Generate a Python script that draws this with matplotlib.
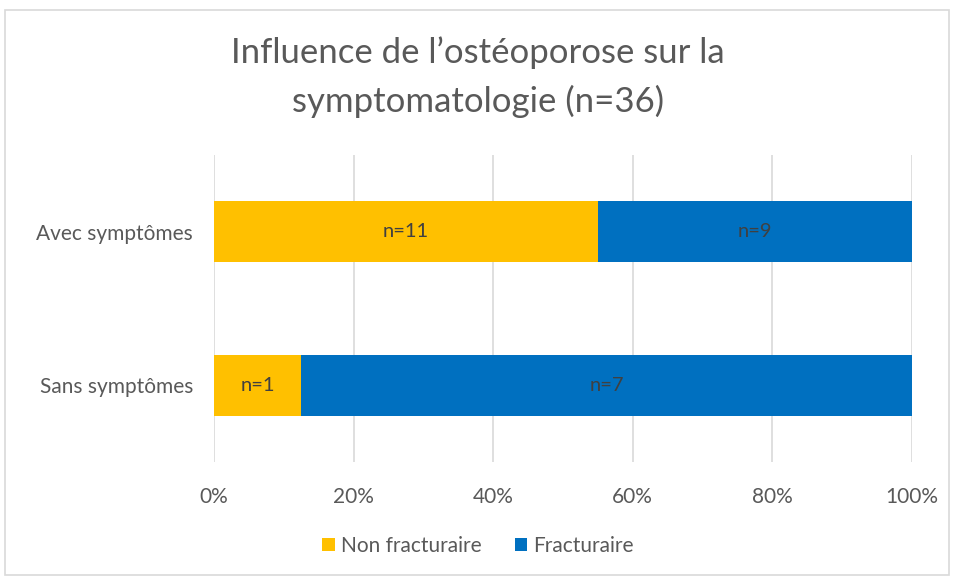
import matplotlib
matplotlib.use("Agg")
import matplotlib.pyplot as plt
from matplotlib.patches import Rectangle
import numpy as np

categories = ["Sans symptômes", "Avec symptômes"]
series_names = ["Non fracturaire", "Fracturaire"]
non_fract = [1, 11]
fract = [7, 9]
colors = ["#FFC000", "#0070C0"]
tick_labels = ["0%", "20%", "40%", "60%", "80%", "100%"]

plt.rcParams["font.family"] = ["Lato", "DejaVu Sans"]
grey = "#595959"

fig = plt.figure(figsize=(9.56, 5.79), dpi=100)
fig.patch.set_facecolor("white")

# outer chart frame
fig.patches.append(Rectangle((5 / 956, 4 / 579), 944 / 956, 565 / 579,
                             transform=fig.transFigure, fill=False,
                             edgecolor="#D9D9D9", linewidth=1.2))

ax = fig.add_axes([214 / 956, 1 - 462 / 579, 698 / 956, 307 / 579])

totals = np.array(non_fract) + np.array(fract)
share_nf = np.array(non_fract) / totals
share_f = np.array(fract) / totals
y = np.arange(len(categories))
h = 0.4

ax.barh(y, share_nf, height=h, color=colors[0], label=series_names[0], zorder=3)
ax.barh(y, share_f, left=share_nf, height=h, color=colors[1], label=series_names[1], zorder=3)

for i in range(len(categories)):
    ax.text(share_nf[i] / 2, y[i], f"n={non_fract[i]}", ha="center", va="center",
            fontsize=14.5, color="#404040", zorder=4)
    ax.text(share_nf[i] + share_f[i] / 2, y[i], f"n={fract[i]}", ha="center", va="center",
            fontsize=14.5, color="#404040", zorder=4)

ax.set_xlim(0, 1)
ax.set_ylim(-0.5, 1.5)
ax.set_xticks(np.linspace(0, 1, 6))
ax.set_xticklabels(tick_labels)
ax.set_yticks(y)
ax.set_yticklabels(categories)
ax.tick_params(axis="both", length=0, labelsize=15, labelcolor=grey)
ax.tick_params(axis="x", pad=18)
ax.tick_params(axis="y", pad=15)
ax.grid(axis="x", color="#D9D9D9", linewidth=1.2, zorder=0)
for s in ax.spines.values():
    s.set_visible(False)

fig.text(0.5, 1 - 53 / 579, "Influence de l’ostéoporose sur la", ha="center", va="center",
         fontsize=25, color=grey)
fig.text(0.5, 1 - 101 / 579, "symptomatologie (n=36)", ha="center", va="center",
         fontsize=25, color=grey)

fig.legend(loc="center", bbox_to_anchor=(0.5, 1 - 546 / 579), ncol=2, frameon=False,
           fontsize=15, labelcolor=grey, handlelength=0.6, handleheight=0.6,
           handletextpad=0.3, columnspacing=1.6)

fig.savefig("out.png", dpi=100, facecolor="white")
